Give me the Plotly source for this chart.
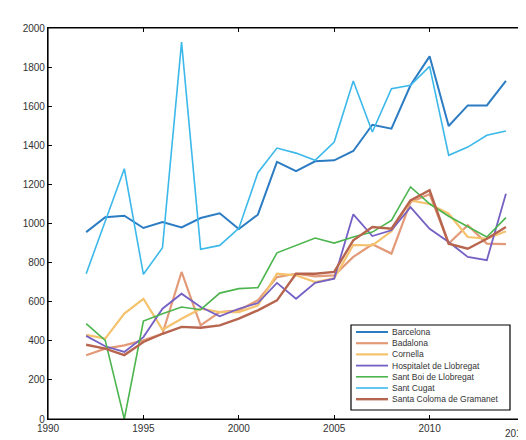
import plotly.graph_objects as go

years = list(range(1992, 2015))

barcelona = [956, 1032, 1040, 977, 1008, 980, 1028, 1052, 972, 1045, 1315, 1268,
             1318, 1323, 1371, 1505, 1485, 1707, 1855, 1499, 1604, 1604, 1729]
badalona = [326, 360, 377, 402, 436, 752, 479, 547, 556, 607, 726, 743,
            730, 735, 829, 894, 846, 1110, 1150, 897, 991, 897, 894]
cornella = [430, 411, 539, 615, 457, 513, 564, 547, 547, 581, 743, 735,
            700, 720, 890, 888, 960, 1118, 1100, 1050, 931, 922, 960]
hospitalet = [425, 372, 343, 419, 564, 641, 573, 525, 564, 593, 696, 615,
              696, 718, 1047, 936, 965, 1084, 973, 905, 829, 812, 1152]
santboi = [488, 402, 0, 501, 539, 573, 559, 644, 667, 672, 850, 888,
           926, 900, 931, 956, 1016, 1187, 1101, 1037, 982, 931, 1030]
santcugat = [743, 1013, 1280, 740, 876, 1928, 868, 888, 975, 1260, 1386, 1360,
             1323, 1417, 1729, 1468, 1690, 1707, 1804, 1349, 1391, 1451, 1473]
santacoloma = [380, 360, 327, 394, 436, 471, 467, 479, 513, 556, 607, 743,
               743, 752, 914, 982, 973, 1118, 1170, 897, 871, 922, 982]

names = ["Barcelona", "Badalona", "Cornella", "Hospitalet de Llobregat",
         "Sant Boi de Llobregat", "Sant Cugat", "Santa Coloma de Gramanet"]
values = [barcelona, badalona, cornella, hospitalet, santboi, santcugat, santacoloma]
colors = ["#2c7cc4", "#e39a78", "#f5c26e", "#7560c4", "#4cb54e", "#3cb8ea", "#b7654f"]
widths = [2, 2.2, 2.2, 1.8, 1.6, 1.6, 2.4]

x_ticks = [1990, 1995, 2000, 2005, 2010, 2015]
x_labels = ["1990", "1995", "2000", "2005", "2010", ""]  # last one drawn separately to stay in view
last_x_label = "2015"
y_ticks = list(range(0, 2001, 200))

W, H = 526, 440
ML, MR, MT, MB = 40, 9, 20, 29
PW, PH = W - ML - MR, H - MT - MB

fig = go.Figure()
for name, vals, color, w in zip(names, values, colors, widths):
    fig.add_trace(go.Scatter(x=years, y=vals, mode="lines", name=name,
                             line=dict(color=color, width=w), showlegend=False))

font = dict(family="Liberation Sans, Arial", size=10, color="#333")
axis_common = dict(showline=True, linecolor="black", linewidth=1.2, mirror="ticks",
                   ticks="inside", ticklen=4, tickcolor="black", showgrid=False,
                   zeroline=False, tickfont=font, automargin=False)

fig.update_xaxes(range=[1990, 2015], tickvals=x_ticks, ticktext=x_labels, **axis_common)
fig.update_yaxes(range=[0, 2000], tickvals=y_ticks, **axis_common)

# frame
shapes = [dict(type="rect", xref="paper", yref="paper", x0=0, x1=1, y0=0, y1=1,
               line=dict(color="black", width=1.2))]

def px(xp):
    return (xp - ML) / PW

def py(yp):
    return (H - MB - yp) / PH

annotations = [dict(xref="paper", yref="paper", x=px(521), y=py(425), text=last_x_label,
                    showarrow=False, xanchor="right", yanchor="middle", font=font,
                    borderpad=0)]

# manual compact legend
lx0, lx1, ly0, ly1 = 343, 502, 317, 402
shapes.append(dict(type="rect", xref="paper", yref="paper", x0=px(lx0), x1=px(lx1),
                   y0=py(ly1), y1=py(ly0), line=dict(color="black", width=1.2),
                   fillcolor="white", layer="above"))
for i, (name, color, w) in enumerate(zip(names, colors, widths)):
    yc = 324 + i * 11.2
    shapes.append(dict(type="line", xref="paper", yref="paper", x0=px(348), x1=px(380),
                       y0=py(yc), y1=py(yc), line=dict(color=color, width=w), layer="above"))
    annotations.append(dict(xref="paper", yref="paper", x=px(382), y=py(yc), text=name,
                            showarrow=False, xanchor="left", yanchor="middle",
                            font=dict(family="Liberation Sans, Arial", size=8.5, color="#333")))

fig.update_layout(
    width=W, height=H,
    margin=dict(l=ML, r=MR, t=MT, b=MB, autoexpand=False),
    paper_bgcolor="white", plot_bgcolor="white",
    shapes=shapes, annotations=annotations,
    showlegend=False,
)

fig.write_html("out.html")
